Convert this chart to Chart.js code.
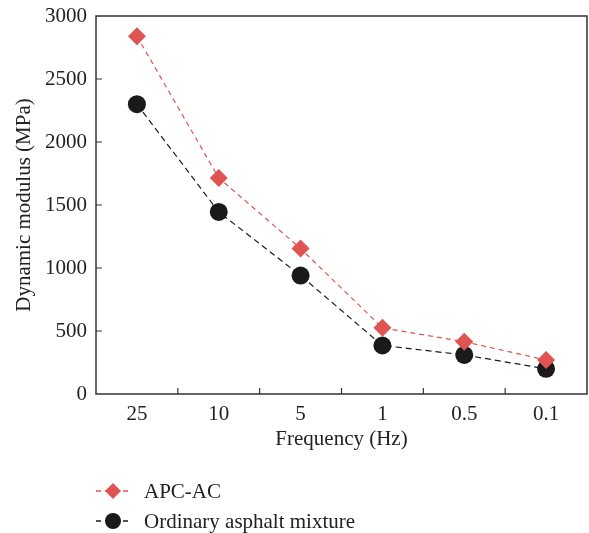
<!DOCTYPE html>
<html>
<head>
<meta charset="utf-8">
<script src="https://cdn.jsdelivr.net/npm/chart.js@4"></script>
<style>
  html, body { margin: 0; padding: 0; background: #fff; }
  #wrap { position: relative; width: 589px; height: 533px; overflow: hidden; }
  canvas { display: block; }
  #leyenda { position: absolute; left: 96px; top: 476px; font-family: "Liberation Serif", serif; font-size: 21px; color: #222; }
  .item { display: flex; align-items: center; height: 30px; }
  .item svg { margin-right: 14px; }
</style>
</head>
<body>
<div id="wrap">
  <canvas id="modulo" width="589" height="533"></canvas>
  <div id="leyenda"></div>
</div>
<script>
const frecuencias = ["25", "10", "5", "1", "0.5", "0.1"];
const apcAc = [2840, 1715, 1155, 525, 415, 270];
const ordinaria = [2300, 1445, 940, 385, 310, 200];
const ticksY = [0, 500, 1000, 1500, 2000, 2500, 3000];

const rojo = "#e05353";
const negro = "#1a1a1a";
const fuente = { family: "Liberation Serif", size: 21 };

// marco y ticks hacia adentro
const marco = {
  id: 'marco',
  afterDraw(chart) {
    const { ctx, chartArea: a, scales } = chart;
    ctx.save();
    ctx.strokeStyle = "#333";
    ctx.lineWidth = 1.5;
    ctx.strokeRect(a.left, a.top, a.right - a.left, a.bottom - a.top);
    ctx.lineWidth = 1.2;
    ctx.beginPath();
    ticksY.slice(1, -1).forEach(v => {
      const y = scales.y.getPixelForValue(v);
      ctx.moveTo(a.left, y);
      ctx.lineTo(a.left + 6, y);
    });
    for (let i = 0; i < frecuencias.length - 1; i++) {
      const x = (scales.x.getPixelForValue(i) + scales.x.getPixelForValue(i + 1)) / 2;
      ctx.moveTo(x, a.bottom);
      ctx.lineTo(x, a.bottom - 6);
    }
    ctx.stroke();
    ctx.restore();
  }
};

const grafica = new Chart(document.getElementById("modulo"), {
  type: 'line',
  data: {
    labels: frecuencias,
    datasets: [{
      label: 'APC-AC',
      data: apcAc,
      borderColor: rojo,
      backgroundColor: rojo,
      borderWidth: 1.2,
      borderDash: [5, 4],
      pointStyle: 'rectRot',
      pointRadius: 9,
      pointHoverRadius: 9,
      pointBorderWidth: 0
    }, {
      label: 'Ordinary asphalt mixture',
      data: ordinaria,
      borderColor: negro,
      backgroundColor: negro,
      borderWidth: 1.2,
      borderDash: [6, 4],
      pointStyle: 'circle',
      pointRadius: 9,
      pointHoverRadius: 9,
      pointBorderWidth: 0
    }]
  },
  options: {
    responsive: false,
    animation: false,
    layout: { autoPadding: false, padding: { left: 8, right: 2, top: 16, bottom: 77 } },
    scales: {
      x: {
        offset: true,
        grid: { display: false, drawTicks: false },
        border: { display: false },
        ticks: { font: fuente, color: "#222", padding: 8 },
        title: { display: true, text: 'Frequency (Hz)', font: fuente, color: "#222" },
        afterFit(scale) { scale.height = 62; scale.paddingLeft = 0; scale.paddingRight = 0; }
      },
      y: {
        min: 0,
        max: 3000,
        grid: { display: false, drawTicks: false },
        border: { display: false },
        ticks: { stepSize: 500, font: fuente, color: "#222", padding: 9, callback: v => String(v) },
        title: { display: true, text: 'Dynamic modulus (MPa)', font: fuente, color: "#222" },
        afterFit(scale) { scale.width = 88; scale.paddingTop = 0; scale.paddingBottom = 0; }
      }
    },
    plugins: {
      legend: { display: false },
      tooltip: { enabled: false }
    }
  },
  plugins: [marco]
});

// leyenda en HTML debajo del grafico
const leyenda = document.getElementById("leyenda");
grafica.data.datasets.forEach(ds => {
  const marca = ds.pointStyle === 'circle'
    ? `<circle cx="17" cy="10" r="8" fill="${ds.backgroundColor}"/>`
    : `<polygon points="17,2 25,10 17,18 9,10" fill="${ds.backgroundColor}"/>`;
  const fila = document.createElement("div");
  fila.className = "item";
  fila.innerHTML = `<svg width="34" height="20"><line x1="0" y1="10" x2="34" y2="10" stroke="${ds.borderColor}" stroke-width="1.5" stroke-dasharray="5,4"/>${marca}</svg><span>${ds.label}</span>`;
  leyenda.appendChild(fila);
});
</script>
</body>
</html>
